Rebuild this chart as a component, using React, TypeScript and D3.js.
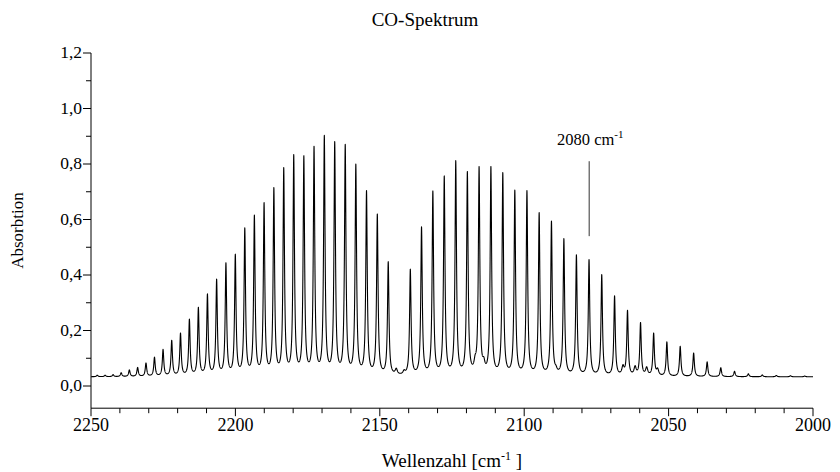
import React, { useMemo } from "react";
import * as d3 from "d3";

const W = 840;
const H = 472;

// Fundamental band, R branch (wavenumber cm^-1, absorbance at line top)
const rBranchWavenumbers = [2147.08, 2150.86, 2154.6, 2158.3, 2161.97, 2165.61, 2169.21, 2172.77, 2176.3, 2179.8, 2183.26, 2186.68, 2190.07, 2193.43, 2196.75, 2200.03, 2203.28, 2206.5, 2209.68, 2212.82, 2215.93, 2219.01, 2222.05, 2225.05, 2228.02, 2230.96, 2233.86, 2236.72, 2239.55, 2242.35, 2245.11, 2247.83];
const rBranchAbsorbance = [0.448, 0.62, 0.704, 0.8, 0.871, 0.881, 0.903, 0.864, 0.83, 0.834, 0.787, 0.715, 0.661, 0.616, 0.57, 0.475, 0.444, 0.385, 0.332, 0.284, 0.241, 0.191, 0.165, 0.132, 0.104, 0.083, 0.067, 0.058, 0.048, 0.041, 0.039, 0.039];
// P branch
const pBranchWavenumbers = [2139.43, 2135.55, 2131.63, 2127.68, 2123.7, 2119.68, 2115.62, 2111.53, 2107.41, 2103.25, 2099.05, 2094.82, 2090.56, 2086.26, 2081.92, 2077.55, 2073.15, 2068.71, 2064.23, 2059.72, 2055.18, 2050.6, 2045.98, 2041.33, 2036.65, 2031.93, 2027.17, 2022.38, 2017.56, 2012.7, 2007.8, 2002.87];
const pBranchAbsorbance = [0.421, 0.574, 0.703, 0.757, 0.812, 0.773, 0.791, 0.791, 0.769, 0.706, 0.704, 0.625, 0.594, 0.531, 0.473, 0.456, 0.402, 0.325, 0.273, 0.229, 0.191, 0.159, 0.143, 0.119, 0.087, 0.066, 0.053, 0.044, 0.04, 0.038, 0.037, 0.036];
// small hot-band features (wavenumber, bump height above surroundings)
const hotBandWavenumbers = [2144.3, 2141.6, 2117.0, 2114.0, 2089.0, 2065.8, 2061.6, 2057.6, 2053.8];
const hotBandBumps = [0.02, 0.012, 0.03, 0.03, 0.012, 0.03, 0.03, 0.028, 0.022];
const baselineAbsorbance = 0.033;
const lineHalfWidth = 0.3; // cm^-1
const hotHalfWidth = 0.45;

const xMajorTicks = [2250, 2200, 2150, 2100, 2050, 2000];
const xMinorTicks = [2240, 2230, 2220, 2210, 2190, 2180, 2170, 2160, 2140, 2130, 2120, 2110, 2090, 2080, 2070, 2060, 2040, 2030, 2020, 2010];
const yMajorTicks = [0, 0.2, 0.4, 0.6, 0.8, 1.0, 1.2];
const yMinorTicks = [0.1, 0.3, 0.5, 0.7, 0.9, 1.1];

const annotationWavenumber = 2077.5;
const annotationFrom = 0.54;
const annotationTo = 0.81;

const FONT = "'Liberation Serif', 'Times New Roman', serif";

const margin = { left: 91, right: 27, top: 53, bottom: 63 };

function lorentz(x: number, c: number, g: number) {
  const d = x - c;
  return (g * g) / (d * d + g * g);
}

export default function App() {
  const x = d3.scaleLinear().domain([2250, 2000]).range([margin.left, W - margin.right]);
  const y0 = 386;
  const y12 = 53;
  const y = d3.scaleLinear().domain([0, 1.2]).range([y0, y12]);
  const yAxisBottom = -0.08;
  const xAxisY = y(yAxisBottom);

  const path = useMemo(() => {
    const centers = [...rBranchWavenumbers, ...pBranchWavenumbers];
    const targets = [...rBranchAbsorbance, ...pBranchAbsorbance];
    const hot = (v: number) => {
      let s = 0;
      for (let i = 0; i < hotBandWavenumbers.length; i++) s += hotBandBumps[i] * lorentz(v, hotBandWavenumbers[i], hotHalfWidth);
      return s;
    };
    const amps = targets.map((t) => t - baselineAbsorbance);
    const model = (v: number) => {
      let s = baselineAbsorbance + hot(v);
      for (let i = 0; i < centers.length; i++) s += amps[i] * lorentz(v, centers[i], lineHalfWidth);
      return s;
    };
    for (let it = 0; it < 40; it++) {
      const m = centers.map((c) => model(c));
      for (let i = 0; i < amps.length; i++) amps[i] += targets[i] - m[i];
    }
    const grid: number[] = [];
    for (let v = 2000; v <= 2250.0001; v += 0.025) grid.push(v);
    centers.forEach((c) => grid.push(c));
    grid.sort((a, b) => a - b);
    const pts: [number, number][] = grid.map((v) => [v, model(v)]);
    const line = d3.line<[number, number]>().x((d) => x(d[0])).y((d) => y(d[1]));
    return line(pts) || "";
  }, []);

  const fmt = (v: number) => d3.format(".1f")(v).replace(".", ",");

  return (
    <svg width={W} height={H} style={{ display: "block", position: "absolute", left: 0, top: 0, background: "#fff" }} fontFamily={FONT}>
      <rect x={0} y={0} width={W} height={H} fill="#fff" />
      <text x={425} y={26} textAnchor="middle" fontSize={19} fill="#000">CO-Spektrum</text>

      {/* y axis */}
      <line x1={margin.left} x2={margin.left} y1={y(1.2)} y2={xAxisY} stroke="#000" strokeWidth={1} />
      {yMajorTicks.map((t) => (
        <g key={"ym" + t}>
          <line x1={margin.left - 8} x2={margin.left} y1={y(t)} y2={y(t)} stroke="#000" />
          <text x={margin.left - 9} y={y(t) + 5} textAnchor="end" fontSize={17.5}>{fmt(t)}</text>
        </g>
      ))}
      {yMinorTicks.map((t) => (
        <line key={"yn" + t} x1={margin.left - 5} x2={margin.left} y1={y(t)} y2={y(t)} stroke="#000" />
      ))}
      <text transform={`translate(23,${(y(1.2) + xAxisY) / 2}) rotate(-90)`} textAnchor="middle" fontSize={17}>Absorbtion</text>

      {/* x axis */}
      <line x1={x(2250)} x2={x(2000)} y1={xAxisY} y2={xAxisY} stroke="#000" />
      {xMajorTicks.map((t) => (
        <g key={"xm" + t}>
          <line x1={x(t)} x2={x(t)} y1={xAxisY} y2={xAxisY + 8} stroke="#000" />
          <text x={x(t)} y={xAxisY + 23} textAnchor="middle" fontSize={18}>{t}</text>
        </g>
      ))}
      {xMinorTicks.map((t) => (
        <line key={"xn" + t} x1={x(t)} x2={x(t)} y1={xAxisY} y2={xAxisY + 5} stroke="#000" />
      ))}
      <text x={(x(2250) + x(2000)) / 2} y={467} textAnchor="middle" fontSize={19}>
        Wellenzahl [cm<tspan dy={-7} fontSize={12}>-1</tspan><tspan dy={7}> ]</tspan>
      </text>

      {/* spectrum */}
      <path d={path} fill="none" stroke="#000" strokeWidth={1.1} strokeLinejoin="round" />

      {/* annotation */}
      <line x1={x(annotationWavenumber)} x2={x(annotationWavenumber)} y1={y(annotationTo)} y2={y(annotationFrom)} stroke="#333" strokeWidth={1} />
      <text x={557} y={145} fontSize={16.5}>
        2080 cm<tspan dy={-7} fontSize={11}>-1</tspan>
      </text>
    </svg>
  );
}
